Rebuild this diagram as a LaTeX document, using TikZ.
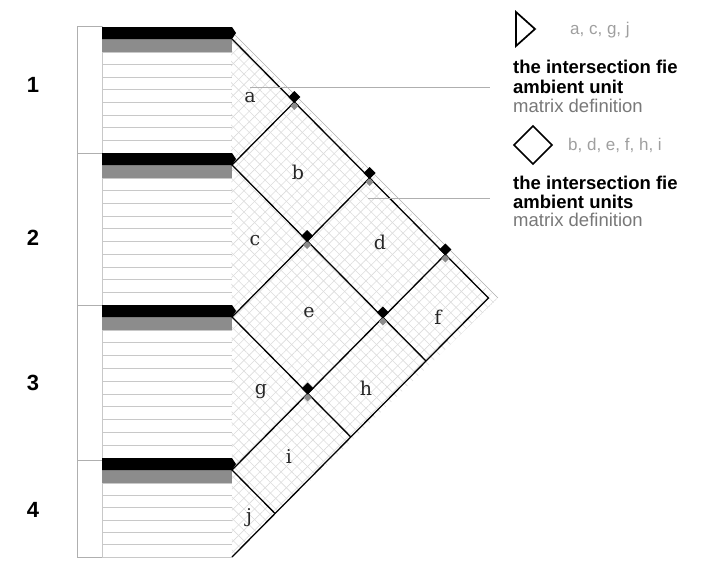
\documentclass[tikz,border=0pt]{standalone}
\usepackage{fontspec}
\usepackage{tikz}
\usetikzlibrary{patterns.meta}
\newfontfamily\keysans{Liberation Sans}
\newfontfamily\cellserif{DejaVu Serif}
\definecolor{bargray}{RGB}{140,140,140}
\definecolor{rulegray}{RGB}{200,200,200}
\definecolor{bracketgray}{RGB}{175,175,175}
\definecolor{hatchgray}{RGB}{220,220,220}
\definecolor{keygray}{RGB}{120,120,120}

\tikzset{
  rowline/.style={rulegray, line width=0.8pt},
  gridline/.style={black, line width=1.3pt},
  cellname/.style={font=\cellserif\fontsize{19}{19}\selectfont, text=black!85},
  groupno/.style={font=\keysans\bfseries\fontsize{22}{22}\selectfont},
  keybold/.style={anchor=west, inner sep=0pt, font=\keysans\bfseries\fontsize{18.5}{18.5}\selectfont},
  keyplain/.style={anchor=west, inner sep=0pt, keygray, font=\keysans\fontsize{18.5}{18.5}\selectfont},
  keylist/.style={anchor=west, inner sep=0pt, gray!75, font=\keysans\fontsize{17}{17}\selectfont},
}

\begin{document}
\begin{tikzpicture}[x=1pt, y=-1pt]
  \useasboundingbox (0,0) rectangle (710,562);

  % hatched field
  \pattern[pattern={Lines[angle=45,distance=7.5pt,line width=0.6pt]}, pattern color=hatchgray]
    (231,33) -- (497,299) -- (232,557) -- cycle;
  \pattern[pattern={Lines[angle=-45,distance=7.5pt,line width=0.6pt]}, pattern color=hatchgray]
    (231,33) -- (497,299) -- (232,557) -- cycle;
  \draw[bracketgray, line width=0.6pt] (234,34) -- (498,298);

  % bracket
  \draw[bracketgray, line width=0.8pt] (77,26) -- (77,557);
  \draw[rulegray, line width=0.8pt] (102,26) -- (102,557);
  \foreach \y in {26,153,305,460,557} \draw[bracketgray, line width=0.8pt] (77,\y) -- (102,\y);
  \node[groupno] (n1) at (33,85) {1};
  \node[groupno] (n2) at (33,238) {2};
  \node[groupno] (n3) at (33,383) {3};
  \node[groupno] (n4) at (33,510) {4};

  % rows and bars
  \foreach \s/\e/\n in {52/153/8, 178/305/10, 330/458/10, 483/557/6}
    \foreach \i in {0,...,\n} \draw[rowline] (102,{\s+\i*(\e-\s)/\n}) -- (232,{\s+\i*(\e-\s)/\n});
  \foreach \t in {27,153,305,458} {
    \fill[bargray] (102,\t+12) rectangle (232,\t+25);
    \fill[black] (102,\t) -- (232,\t) -- (236,\t+6) -- (232,\t+12) -- (102,\t+12) -- cycle;
  }

  % grid
  \foreach \a/\ya in {0/39,1/165,2/317,3/470,4/557}
    \coordinate (s\a) at (232,\ya);
  \foreach \a/\ya in {0/39,1/165,2/317,3/470}
    \foreach \b/\yb in {1/165,2/317,3/470,4/557}
      \coordinate (p\a\b) at ({232+0.99*(\yb-\ya)/2},{(\ya+\yb)/2});
  \draw[gridline] (s0) -- (p04) -- (s4);
  \draw[gridline] (p01) -- (s1) -- (p14);
  \draw[gridline] (p02) -- (s2) -- (p24);
  \draw[gridline] (p03) -- (s3) -- (p34);
  \foreach \p in {p01,p02,p03,p12,p13,p23} {
    \fill[bargray] ([yshift=-4pt]\p) +(-4,0) -- +(0,-4) -- +(4,0) -- +(0,4) -- cycle;
    \fill[black] ([yshift=5pt]\p) +(-6,0) -- +(0,-6) -- +(6,0) -- +(0,6) -- cycle;
  }

  \node[cellname] (ca) at (250,98) {a};
  \node[cellname] (cb) at (298,172) {b};
  \node[cellname] (cc) at (255,241) {c};
  \node[cellname] (cd) at (380,242) {d};
  \node[cellname] (ce) at (309,313) {e};
  \node[cellname] (cf) at (438,317) {f};
  \node[cellname] (cg) at (261,392) {g};
  \node[cellname] (ch) at (366,388) {h};
  \node[cellname] (ci) at (289,457) {i};
  \node[cellname] (cj) at (249,518) {j};

  % key
  \coordinate (leadA) at (250,87);
  \coordinate (leadB) at (368,198);
  \draw[bracketgray, line width=0.7pt] (leadA) -- (490,87);
  \draw[bracketgray, line width=0.7pt] (leadB) -- (490,198);
  \draw[line width=1.7pt, line join=miter] (516,12) -- (535,29) -- (516,46) -- cycle;
  \draw[line width=1.7pt, line join=miter] (514,145) -- (533,126) -- (552,145) -- (533,164) -- cycle;
  \begin{scope}
    \clip (500,0) rectangle (677,240);
    \node[keylist] (keyA) at (570,30) {a, c, g, j};
    \node[keybold] (fieldA) at (513,67) {the intersection field};
    \node[keybold] (unitA) at (513,87) {ambient unit};
    \node[keyplain] (defA) at (513,106) {matrix definition};
    \node[keylist] (keyB) at (568,145) {b, d, e, f, h, i};
    \node[keybold] (fieldB) at (513,183) {the intersection field};
    \node[keybold] (unitB) at (513,202) {ambient units};
    \node[keyplain] (defB) at (513,220) {matrix definition};
  \end{scope}
\end{tikzpicture}
\end{document}
